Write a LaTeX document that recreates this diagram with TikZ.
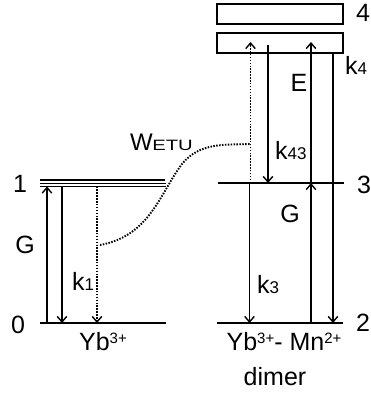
\documentclass[tikz,border=0pt]{standalone}
\usepackage{fontspec}
\setmainfont{Liberation Sans}
\usetikzlibrary{arrows.meta}
\newcommand\mysub[1]{{\fontsize{17}{17}\selectfont #1}}
\newcommand\mysup[1]{\raisebox{7pt}{\fontsize{15}{15}\selectfont #1}}
\begin{document}
\begin{tikzpicture}[x=1pt,y=-1pt,
  lvl/.style={line width=1.6pt},
  box/.style={line width=1.5pt},
  arr/.style={line width=1.6pt,-{Straight Barb[length=5.5pt,width=9.5pt,line width=1.4pt]}},
  dotarr/.style={line width=1.9pt,dash pattern=on 1.5pt off 1.4pt,-{Straight Barb[length=5.5pt,width=9.5pt,line width=1.4pt]}},
  dotline/.style={line width=1.9pt,dash pattern=on 1.5pt off 1.4pt},
  lab/.style={font=\fontsize{25}{25}\selectfont, inner sep=0pt},
]
\useasboundingbox (0,0) rectangle (371,394);
% left levels
\coordinate (L0a) at (40,323); \coordinate (L0b) at (166,323);
\coordinate (L1a) at (40,180); \coordinate (L1b) at (165,180);
\coordinate (L1c) at (40,183.5); \coordinate (L1d) at (166,183.5);
\coordinate (L1e) at (40,186.5); \coordinate (L1f) at (166,186.5);
\draw[lvl] (L0a) -- (L0b);
\draw[lvl,line width=1.3pt] (L1a) -- (L1b);
\draw[lvl,line width=1.3pt] (L1c) -- (L1d);
\draw[lvl,line width=1.3pt] (L1e) -- (L1f);
% left arrows
\coordinate (G0) at (47,323); \coordinate (G1) at (47,186.5);
\coordinate (K1a) at (62,186.5); \coordinate (K1b) at (62,323);
\coordinate (Da) at (97,186.5); \coordinate (Db) at (97,323);
\draw[arr] (G0) -- (G1);
\draw[arr] (K1a) -- (K1b);
\draw[dotarr] (Da) -- (Db);
% right boxes
\node[box,draw,minimum width=126pt,minimum height=20pt,inner sep=0pt] (B4) at (280,14) {};
\node[box,draw,minimum width=126pt,minimum height=20pt,inner sep=0pt] (B4b) at (280,43) {};
% right levels
\coordinate (L3a) at (218,183); \coordinate (L3b) at (344,183);
\coordinate (L2a) at (217,323); \coordinate (L2b) at (343,323);
\draw[lvl] (L3a) -- (L3b);
\draw[lvl] (L2a) -- (L2b);
% right arrows
\coordinate (DUa) at (250.5,183); \coordinate (DUb) at (250.5,42);
\coordinate (K43a) at (268,45); \coordinate (K43b) at (268,183);
\coordinate (E2) at (311,323); \coordinate (E3) at (311,183); \coordinate (E4) at (311,42);
\coordinate (K4a) at (333,53); \coordinate (K4b) at (333,323);
\coordinate (K3a) at (249.5,183); \coordinate (K3b) at (249.5,323);
\draw[dotarr] (DUa) -- (DUb);
\draw[arr] (K43a) -- (K43b);
\draw[arr] (E2) -- (E3);
\draw[arr] (E3) -- (E4);
\draw[arr] (K4a) -- (K4b);
\draw[arr] (K3a) -- (K3b);
% ETU curve
\coordinate (C0) at (100,245);
\coordinate (C1) at (182,164);
\coordinate (C2) at (250.5,144);
\draw[dotline] (C0) .. controls (150,236) and (160,193) .. (C1)
  .. controls (200,142) and (225,145) .. (C2);
% labels
\node[lab] (n1) at (20,184) {1};
\node[lab] (n0) at (18,325) {0};
\node[lab] (gl) at (25,245) {G};
\node[lab,anchor=base west] (k1) at (72,290) {k\mysub{1}};
\node[lab,anchor=base] (yb) at (103,350) {Yb\mysup{3+}};
\node[lab] (n4) at (363,13) {4};
\node[lab] (n3) at (364,185) {3};
\node[lab] (n2) at (363,323) {2};
\node[lab,anchor=base west] (k4) at (345,74) {k\mysub{4}};
\node[lab] (el) at (299,83) {E};
\node[lab,anchor=base west] (k43) at (275,159) {k\mysub{43}};
\node[lab] (gr) at (290,214) {G};
\node[lab,anchor=base west] (k3) at (257,293) {k\mysub{3}};
\node[lab,anchor=base] (ybmn) at (284,350) {Yb\mysup{3+}- Mn\mysup{2+}};
\node[lab,anchor=base] (dim) at (275,385) {dimer};
\node[anchor=base west,inner sep=0pt] (wetu) at (130,150) {\fontsize{24}{24}\selectfont W\hspace{-0.5pt}\scalebox{1.35}[1]{\fontsize{15}{15}\selectfont ETU}};
\end{tikzpicture}
\end{document}
